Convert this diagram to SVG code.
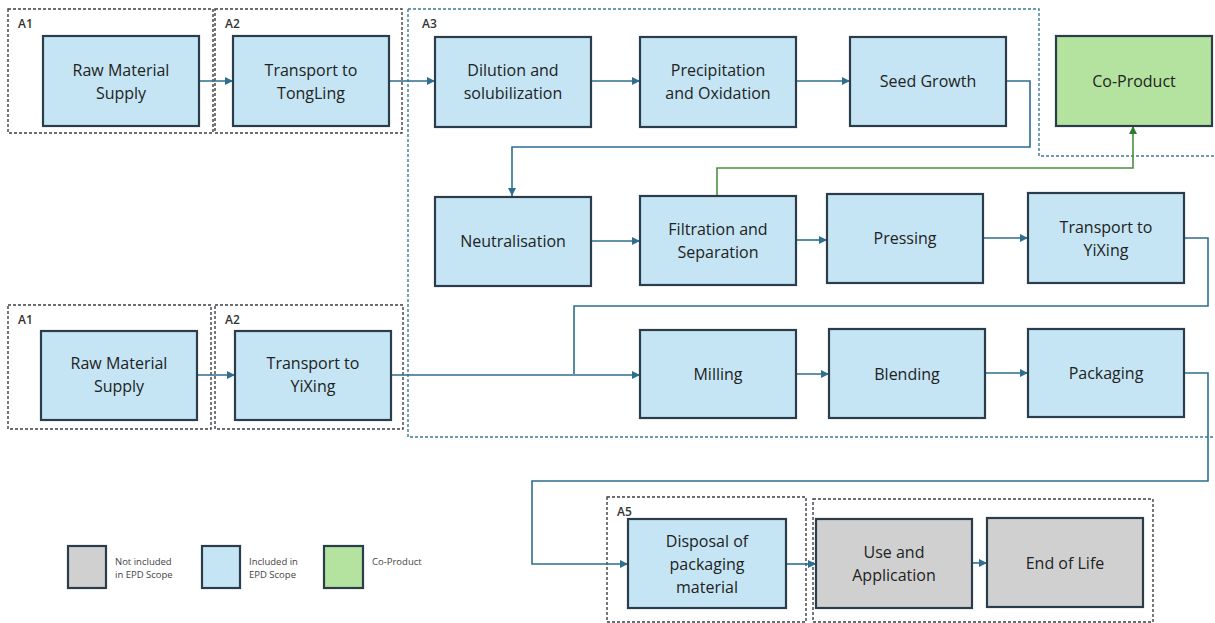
<svg xmlns="http://www.w3.org/2000/svg" width="1215" height="623" viewBox="0 0 1215 623">
<defs>
<style>
.n{stroke:#2b3d4a;stroke-width:2.2}
.b{fill:#c5e5f5}
.g{fill:#d0d0d0}
.p{fill:#b4e3a0}
.t{font-family:"Open Sans","Liberation Sans",sans-serif;font-size:16px;fill:#222;text-anchor:middle}
.lbl{font-family:"Open Sans","Liberation Sans",sans-serif;font-size:12px;font-weight:600;fill:#333}
.lg{font-family:"Open Sans","Liberation Sans",sans-serif;font-size:9.5px;fill:#444}
.box{fill:none;stroke:#3a3f44;stroke-width:1.4;stroke-dasharray:3 2}
.bbox{fill:none;stroke:#3b7a99;stroke-width:1.4;stroke-dasharray:3 2}
.c{fill:none;stroke:#2e6e8e;stroke-width:1.6}
.cg{fill:none;stroke:#4a9040;stroke-width:1.6}
</style>
<marker id="ah" viewBox="0 0 10 10" refX="10" refY="5" markerWidth="5" markerHeight="5" orient="auto"><path d="M0,0 L10,5 L0,10 z" fill="#2e6e8e"/></marker>
<marker id="ahg" viewBox="0 0 10 10" refX="10" refY="5" markerWidth="5" markerHeight="5" orient="auto"><path d="M0,0 L10,5 L0,10 z" fill="#2e7a30"/></marker>
</defs>
<rect width="1215" height="623" fill="#fff"/>

<g id="stages">
<rect class="box" x="8" y="9" width="205" height="124"/>
<text class="lbl" x="18" y="28">A1</text>
<rect class="box" x="215" y="9" width="187" height="124"/>
<text class="lbl" x="225" y="28">A2</text>
<path class="bbox" d="M408,9 H1039 V156 H1215 M408,9 V437 H1215"/>
<text class="lbl" x="422" y="28">A3</text>
<rect class="box" x="8" y="305" width="203" height="124"/>
<text class="lbl" x="18" y="324">A1</text>
<rect class="box" x="215" y="305" width="188" height="124"/>
<text class="lbl" x="225" y="324">A2</text>
<rect class="box" x="607" y="497" width="199" height="125"/>
<text class="lbl" x="617" y="516">A5</text>
<rect class="box" x="813" y="499" width="340" height="123"/>
</g>

<g id="connectors">
<path class="c" d="M199,81 H233" marker-end="url(#ah)"/>
<path class="c" d="M389,81 H435" marker-end="url(#ah)"/>
<path class="c" d="M591,81 H640" marker-end="url(#ah)"/>
<path class="c" d="M796,81 H850" marker-end="url(#ah)"/>
<path class="c" d="M1006,81 H1030 V147 H512 V196" marker-end="url(#ah)"/>
<path class="c" d="M591,241 H640" marker-end="url(#ah)"/>
<path class="c" d="M796,240 H827" marker-end="url(#ah)"/>
<path class="c" d="M983,238 H1028" marker-end="url(#ah)"/>
<path class="c" d="M1184,238 H1208 V306 H574 V374"/>
<path class="c" d="M197,375 H235" marker-end="url(#ah)"/>
<path class="c" d="M391,375 H640" marker-end="url(#ah)"/>
<path class="c" d="M796,374 H829" marker-end="url(#ah)"/>
<path class="c" d="M985,373 H1028" marker-end="url(#ah)"/>
<path class="c" d="M1184,373 H1208 V481 H532 V564 H628" marker-end="url(#ah)"/>
<path class="c" d="M786,564 H816" marker-end="url(#ah)"/>
<path class="c" d="M972,563 H987" marker-end="url(#ah)"/>
<path class="cg" d="M717,196 V168 H1133 V126" marker-end="url(#ahg)"/>
</g>

<g id="raw1"><rect class="n b" x="43" y="36" width="156" height="90"/><text class="t" x="121" y="76">Raw Material</text><text class="t" x="121" y="99">Supply</text></g>
<g id="tongling"><rect class="n b" x="233" y="36" width="156" height="90"/><text class="t" x="311" y="76">Transport to</text><text class="t" x="311" y="99">TongLing</text></g>
<g id="dilution"><rect class="n b" x="435" y="37" width="156" height="90"/><text class="t" x="513" y="76">Dilution and</text><text class="t" x="513" y="99">solubilization</text></g>
<g id="precip"><rect class="n b" x="640" y="37" width="156" height="90"/><text class="t" x="718" y="76">Precipitation</text><text class="t" x="718" y="99">and Oxidation</text></g>
<g id="seed"><rect class="n b" x="850" y="37" width="156" height="89"/><text class="t" x="928" y="87">Seed Growth</text></g>
<g id="coproduct"><rect class="n p" x="1056" y="36" width="156" height="90"/><text class="t" x="1134" y="87">Co-Product</text></g>
<g id="neutral"><rect class="n b" x="435" y="197" width="156" height="89"/><text class="t" x="513" y="247">Neutralisation</text></g>
<g id="filtration"><rect class="n b" x="640" y="196" width="156" height="89"/><text class="t" x="718" y="235">Filtration and</text><text class="t" x="718" y="258">Separation</text></g>
<g id="pressing"><rect class="n b" x="827" y="194" width="156" height="89"/><text class="t" x="905" y="244">Pressing</text></g>
<g id="yixing1"><rect class="n b" x="1028" y="193" width="156" height="90"/><text class="t" x="1106" y="233">Transport to</text><text class="t" x="1106" y="256">YiXing</text></g>
<g id="raw2"><rect class="n b" x="41" y="331" width="156" height="89"/><text class="t" x="119" y="369">Raw Material</text><text class="t" x="119" y="392">Supply</text></g>
<g id="yixing2"><rect class="n b" x="235" y="331" width="156" height="89"/><text class="t" x="313" y="369">Transport to</text><text class="t" x="313" y="392">YiXing</text></g>
<g id="milling"><rect class="n b" x="640" y="330" width="156" height="88"/><text class="t" x="718" y="380">Milling</text></g>
<g id="blending"><rect class="n b" x="829" y="329" width="156" height="89"/><text class="t" x="907" y="380">Blending</text></g>
<g id="packaging"><rect class="n b" x="1028" y="329" width="156" height="88"/><text class="t" x="1106" y="379">Packaging</text></g>
<g id="disposal"><rect class="n b" x="628" y="519" width="158" height="89"/><text class="t" x="707" y="547">Disposal of</text><text class="t" x="707" y="570">packaging</text><text class="t" x="707" y="593">material</text></g>
<g id="use"><rect class="n g" x="816" y="519" width="156" height="89"/><text class="t" x="894" y="558">Use and</text><text class="t" x="894" y="581">Application</text></g>
<g id="eol"><rect class="n g" x="987" y="518" width="156" height="89"/><text class="t" x="1065" y="569">End of Life</text></g>

<g id="legend">
<rect class="n g" x="68" y="546" width="38" height="42"/>
<text class="lg" x="115" y="565">Not included</text><text class="lg" x="115" y="578">in EPD Scope</text>
<rect class="n b" x="202" y="546" width="38" height="42"/>
<text class="lg" x="249" y="565">Included in</text><text class="lg" x="249" y="578">EPD Scope</text>
<rect class="n p" x="324" y="546" width="39" height="42"/>
<text class="lg" x="372" y="565">Co-Product</text>
</g>
</svg>
